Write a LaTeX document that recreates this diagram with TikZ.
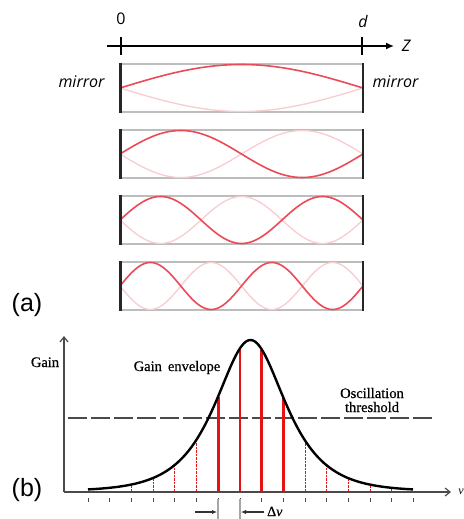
\documentclass[tikz,border=0pt]{standalone}
\usepackage{fontspec}
\setmainfont{Liberation Serif}
\newfontfamily\osans{Open Sans}
\newfontfamily\arialf{Liberation Sans}
\newfontfamily\serb[FakeBold=0.6]{Liberation Serif}
\usetikzlibrary{arrows.meta}
\definecolor{wdark}{HTML}{EB4B57}
\definecolor{wlight}{HTML}{F9CCD0}
\definecolor{boxgray}{HTML}{BDBDBD}
\definecolor{axgray}{HTML}{4A4A4A}
\definecolor{modered}{HTML}{E41414}
\begin{document}
\begin{tikzpicture}[x=1pt,y=-1pt,
  toplbl/.style={font=\osans\fontsize{16}{18}\selectfont, inner sep=0pt, anchor=base},
  partlbl/.style={font=\arialf\fontsize{25}{28}\selectfont, inner sep=0pt},
  serlbl/.style={font=\serb\fontsize{14.5}{15}\selectfont, inner sep=0pt, anchor=base},
  cavbox/.style={boxgray, line width=1.4},
  wavedark/.style={wdark, line width=1.6},
  wavelight/.style={wlight, line width=1.3},
  mirrorline/.style={black!85, line width=2.6},
  axisline/.style={axgray, line width=1.2},
  modethick/.style={modered, line width=2.6},
  modethin/.style={modered, line width=0.8, dash pattern=on 2.5pt off 1pt},
  envelope/.style={black, line width=2.4},
  threshold/.style={axgray, line width=1.4, dash pattern=on 19pt off 4pt},
  dnuarrow/.style={black!80, line width=1.1, -{Latex[length=5pt,width=4.5pt]}}
]
\fill[white] (0,0) rectangle (463,519);
\useasboundingbox (0,0) rectangle (463,519);

% ---------- (a) top axis ----------
\coordinate (zs) at (107,46);
\coordinate (ze) at (394,46);
\draw[black, line width=1.5, -{Latex[length=8pt,width=7pt]}] (zs) -- (ze);
\draw[black, line width=1.2] (121,37) -- (121,55);
\draw[black, line width=1.2] (362,37) -- (362,55);
\node[toplbl] (zero) at (121,25) {0};
\node[toplbl] (dlbl) at (363,28) {\itshape d};
\node[toplbl] (zlbl) at (406,52) {\itshape Z};
\node[toplbl] (mirl) at (81.5,88) {\itshape mirror};
\node[toplbl] (mirr) at (395.5,88) {\itshape mirror};

% ---------- cavity modes ----------
\foreach \n/\ty in {1/64,2/130,3/196,4/262}{
  \pgfmathsetmacro\my{\ty+24}
  \draw[cavbox] (120,\ty) rectangle (363,\ty+48);
  \draw[wavelight] plot[domain=0:1,samples=150] ({120+243*\x},{\my+23.5*sin(\n*180*\x)});
  \draw[wavedark] plot[domain=0:1,samples=150] ({120+243*\x},{\my-23.5*sin(\n*180*\x)});
  \draw[mirrorline] (120.5,\ty-1) -- (120.5,\ty+49);
  \draw[mirrorline] (363,\ty-1) -- (363,\ty+49);
}
\node[partlbl] (la) at (27,305.5) {(a)};

% ---------- (b) gain plot ----------
\coordinate (org) at (64,492);
\coordinate (ytop) at (64,336);
\coordinate (xend) at (451,492);
\draw[threshold] (68,418) -- (432,418);
\foreach \k in {2,3,4,5,10,11,12,13,14}{
  \pgfmathsetmacro\xx{88+21.7*\k}
  \pgfmathsetmacro\yy{492-151/cosh((\xx-250.5)/31)}
  \draw[modethin] (\xx,491) -- (\xx,\yy);
}
\foreach \k in {6,7,8,9}{
  \pgfmathsetmacro\xx{88+21.7*\k}
  \pgfmathsetmacro\yy{492-151/cosh((\xx-250.5)/31)}
  \draw[modethick] (\xx,491) -- (\xx,\yy);
}
\draw[envelope] plot[domain=88:413,samples=220,smooth] (\x,{491-151/cosh((\x-250.5)/31)});
\draw[axisline, -{Straight Barb[length=5pt,width=8pt]}] (org) -- (ytop);
\draw[axisline, -{Straight Barb[length=5pt,width=8pt]}] (org) -- (xend);
\foreach \k in {0,...,15}{
  \draw[axgray, line width=0.8] ({88+21.7*\k},498) -- ++(0,4);
}
\node[serlbl] (gain) at (45,367) {Gain};
\node[serlbl] (env) at (177,371) {Gain\, envelope};
\node[serlbl] (osc) at (372,398) {Oscillation};
\node[serlbl] (thr) at (372,412) {threshold};
\node[font=\itshape\fontsize{12}{13}\selectfont, inner sep=0pt] (nu) at (461,492) {ν};

% delta nu
\draw[gray!70, line width=1.6] (218.2,499) -- (218.2,519);
\draw[gray!70, line width=1.6] (239.9,499) -- (239.9,519);
\coordinate (al) at (195,512);
\coordinate (ar) at (264,512);
\coordinate (tl) at (217,512);
\coordinate (tr) at (241,512);
\draw[dnuarrow] (al) -- (tl);
\draw[dnuarrow] (ar) -- (tr);
\node[font=\serb\fontsize{14}{15}\selectfont, inner sep=0pt, anchor=base west] (dnu) at (267,516) {Δ\textit{ν}};
\node[partlbl] (lb) at (27,490.5) {(b)};
\end{tikzpicture}
\end{document}
